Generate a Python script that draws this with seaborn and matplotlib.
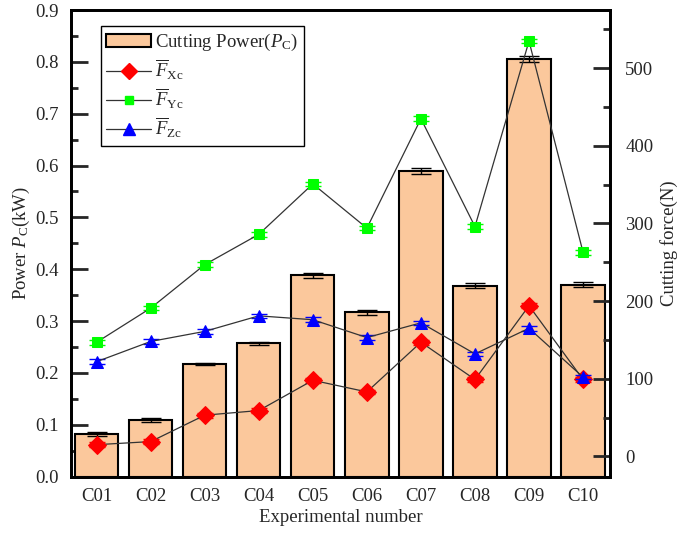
import numpy as np
import pandas as pd
import matplotlib
matplotlib.use('Agg')
import matplotlib.pyplot as plt
import seaborn as sns
from matplotlib.lines import Line2D
from matplotlib.patches import Patch
from matplotlib.ticker import MultipleLocator

labels = ['C01', 'C02', 'C03', 'C04', 'C05', 'C06', 'C07', 'C08', 'C09', 'C10']
power = [0.082, 0.109, 0.217, 0.257, 0.388, 0.317, 0.589, 0.368, 0.805, 0.370]
power_err = [0.003, 0.004, 0.002, 0.003, 0.005, 0.005, 0.006, 0.005, 0.006, 0.005]
fx = [15, 19, 53, 59, 98, 83, 147, 99, 194, 99]
fy = [147, 191, 247, 286, 351, 294, 435, 296, 535, 263]
fz = [122, 148, 161, 181, 176, 153, 172, 132, 165, 102]
force_err = [3, 3, 3, 3, 3, 3, 3, 3, 3, 3]

bar_color = '#FBC89C'
fs = 13.5

sns.set_style('ticks')
plt.rcParams['font.family'] = ['Liberation Serif', 'DejaVu Serif']
plt.rcParams['mathtext.fontset'] = 'custom'
plt.rcParams['mathtext.rm'] = 'Liberation Serif'
plt.rcParams['mathtext.it'] = 'Liberation Serif:italic'

fig = plt.figure(figsize=(6.85, 5.38), dpi=100)
ax = fig.add_axes([0.1036, 0.1143, 0.787, 0.867])

df = pd.DataFrame({'exp': labels, 'power': power})
sns.barplot(data=df, x='exp', y='power', color=bar_color, edgecolor='black',
            linewidth=1.5, width=0.8, saturation=1, errorbar=None, ax=ax)
pos = np.arange(len(labels))
ax.errorbar(pos, power, yerr=power_err, fmt='none', ecolor='black',
            elinewidth=1, capsize=7, capthick=1)

ax.set_xlim(-0.476, 9.5)
ax.set_ylim(0, 0.9)
ax.yaxis.set_major_locator(MultipleLocator(0.1))
ax.yaxis.set_minor_locator(MultipleLocator(0.05))
ax.tick_params(axis='y', which='major', direction='in', length=12, width=2, labelsize=fs, pad=9)
ax.tick_params(axis='y', which='minor', direction='in', length=5, width=2)
ax.tick_params(axis='x', direction='in', length=10, width=2, labelsize=fs, pad=8)
ax.set_xlabel('Experimental number', fontsize=fs, labelpad=3)
ax.set_ylabel('Power $P_{\\rm C}$(kW)', fontsize=fs, labelpad=2)

# force series on the right axis
ax2 = ax.twinx()
series = [(fx, 'D', 'red', 9), (fy, 's', '#00FF00', 7), (fz, '^', 'blue', 9)]
for vals, m, c, ms in series:
    ax2.errorbar(pos, vals, yerr=force_err, fmt='none', ecolor=c,
                 elinewidth=1, capsize=6, capthick=1)
    sns.lineplot(x=pos, y=vals, ax=ax2, color='#333333', lw=0.9, marker=m,
                 markersize=ms, markerfacecolor=c, markeredgecolor=c)

ax2.set_ylim(-26, 575)
ax2.yaxis.set_major_locator(MultipleLocator(100))
ax2.yaxis.set_minor_locator(MultipleLocator(50))
ax2.tick_params(axis='y', which='major', direction='in', length=12, width=2, labelsize=fs, pad=11)
ax2.tick_params(axis='y', which='minor', direction='in', length=5, width=2)
ax2.set_ylabel('Cutting force(N)', fontsize=fs, labelpad=5)

for a in (ax, ax2):
    for s in a.spines.values():
        s.set_linewidth(2)
        s.set_color('black')

handles = [
    Patch(facecolor=bar_color, edgecolor='black', linewidth=1.5),
    Line2D([0], [0], color='#333333', lw=0.9, marker='D', ms=8, mfc='red', mec='red'),
    Line2D([0], [0], color='#333333', lw=0.9, marker='s', ms=6, mfc='#00FF00', mec='#00FF00'),
    Line2D([0], [0], color='#333333', lw=0.9, marker='^', ms=8, mfc='blue', mec='blue'),
]
names = ['Cutting Power($P_{\\rm C}$)', r'$\overline{F}_{\rm Xc}$',
         r'$\overline{F}_{\rm Yc}$', r'$\overline{F}_{\rm Zc}$']
leg = ax2.legend(handles, names, loc='upper left', bbox_to_anchor=(0.055, 0.965),
                 fontsize=fs, frameon=True, fancybox=False, framealpha=1,
                 edgecolor='black', handlelength=2.4, handletextpad=0.2,
                 borderpad=0.3, labelspacing=0.25, borderaxespad=0)
leg.get_frame().set_linewidth(1)

fig.savefig('out.png', dpi=100)
